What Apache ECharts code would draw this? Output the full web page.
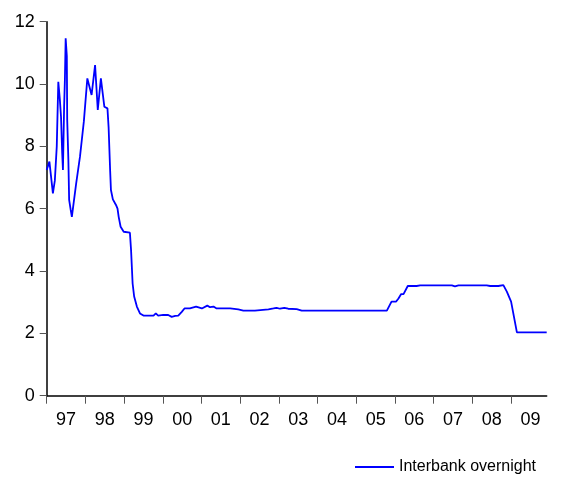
<!DOCTYPE html>
<html>
<head>
<meta charset="utf-8">
<script src="https://cdn.jsdelivr.net/npm/echarts@6/dist/echarts.min.js"></script>
<style>
    html, body { margin: 0; padding: 0; background: #fff; }
    #chart { width: 586px; height: 480px; }
</style>
</head>
<body>
<div id="chart"></div>
<script>
// decimal year of each reading
const dates = [
    1997.00, 1997.07, 1997.16, 1997.21, 1997.26, 1997.30, 1997.34, 1997.37, 1997.40, 1997.42,
    1997.45, 1997.47, 1997.49, 1997.52, 1997.53, 1997.56, 1997.58, 1997.62, 1997.65, 1997.76,
    1997.86, 1997.96, 1998.05, 1998.08, 1998.16, 1998.25, 1998.32, 1998.40, 1998.49, 1998.57,
    1998.60, 1998.64, 1998.66, 1998.71, 1998.79, 1998.83, 1998.86, 1998.91, 1998.99, 1999.15,
    1999.18, 1999.22, 1999.26, 1999.33, 1999.41, 1999.50, 1999.76, 1999.82, 1999.88, 2000.01,
    2000.14, 2000.23, 2000.32, 2000.40, 2000.49, 2000.56, 2000.70, 2000.86, 2001.01, 2001.15,
    2001.22, 2001.31, 2001.39, 2001.74, 2001.95, 2002.00, 2002.08, 2002.38, 2002.43, 2002.73,
    2002.86, 2002.94, 2003.03, 2003.14, 2003.24, 2003.46, 2003.59, 2005.79, 2005.81, 2005.91,
    2006.03, 2006.09, 2006.16, 2006.22, 2006.33, 2006.56, 2006.65, 2007.47, 2007.55, 2007.64,
    2008.37, 2008.46, 2008.67, 2008.80, 2008.89, 2009.00, 2009.15, 2009.92
];
const rates = [
    7.24, 7.51, 6.49, 6.90, 8.00, 10.07, 9.50, 8.95, 7.80, 7.24,
    9.27, 10.13, 11.47, 10.90, 8.85, 7.56, 6.28, 5.96, 5.74, 6.80,
    7.67, 8.80, 10.18, 10.23, 9.65, 10.61, 9.17, 10.18, 9.27, 9.22,
    8.60, 7.20, 6.60, 6.30, 6.12, 6.00, 5.74, 5.42, 5.26, 5.23,
    4.67, 3.60, 3.18, 2.86, 2.64, 2.57, 2.57, 2.64, 2.57, 2.59,
    2.59, 2.53, 2.56, 2.57, 2.69, 2.80, 2.80, 2.86, 2.80, 2.89,
    2.84, 2.86, 2.80, 2.80, 2.77, 2.77, 2.73, 2.73, 2.77, 2.77,
    2.80, 2.82, 2.79, 2.82, 2.79, 2.78, 2.73, 2.73, 2.73, 3.02,
    3.02, 3.12, 3.26, 3.26, 3.52, 3.52, 3.54, 3.54, 3.51, 3.54,
    3.54, 3.52, 3.52, 3.55, 3.34, 3.02, 2.03, 2.03
];
const years = [1997, 1998, 1999, 2000, 2001, 2002, 2003, 2004, 2005, 2006, 2007, 2008, 2009];
const yTicks = [0, 2, 4, 6, 8, 10, 12];

const chart = echarts.init(document.getElementById('chart'));

chart.setOption({
    animation: false,
    textStyle: { fontFamily: 'Arial, "Liberation Sans", sans-serif' },
    grid: { left: 46.7, right: 39.3, top: 21.7, bottom: 84.3 },
    legend: {
        left: 350,
        top: 454,
        itemWidth: 39,
        itemHeight: 2,
        textStyle: { fontSize: 16, color: '#000' },
        data: [{ name: 'Interbank overnight', icon: 'rect' }]
    },
    xAxis: {
        type: 'value',
        min: 1997,
        max: 2009.92,
        axisLine: { lineStyle: { color: '#000', width: 1.5 } },
        axisTick: {
            customValues: years,
            length: 8,
            lineStyle: { color: '#555', width: 1 }
        },
        axisLabel: {
            customValues: years.map((y) => y + 0.5),
            formatter: (v) => String(Math.floor(v)).slice(2),
            margin: 15,
            fontSize: 18,
            color: '#000'
        },
        splitLine: { show: false }
    },
    yAxis: {
        type: 'value',
        min: yTicks[0],
        max: yTicks[yTicks.length - 1],
        interval: 2,
        axisLine: { show: true, lineStyle: { color: '#000', width: 1.5 } },
        axisTick: { show: true, length: 7, lineStyle: { color: '#555', width: 1 } },
        axisLabel: { margin: 12, fontSize: 18, color: '#000' },
        splitLine: { show: false }
    },
    series: [
        {
            name: 'Interbank overnight',
            type: 'line',
            symbol: 'none',
            lineStyle: { color: '#0000ff', width: 1.8 },
            itemStyle: { color: '#0000ff' },
            data: dates.map((d, i) => [d, rates[i]])
        }
    ]
});
</script>
</body>
</html>
